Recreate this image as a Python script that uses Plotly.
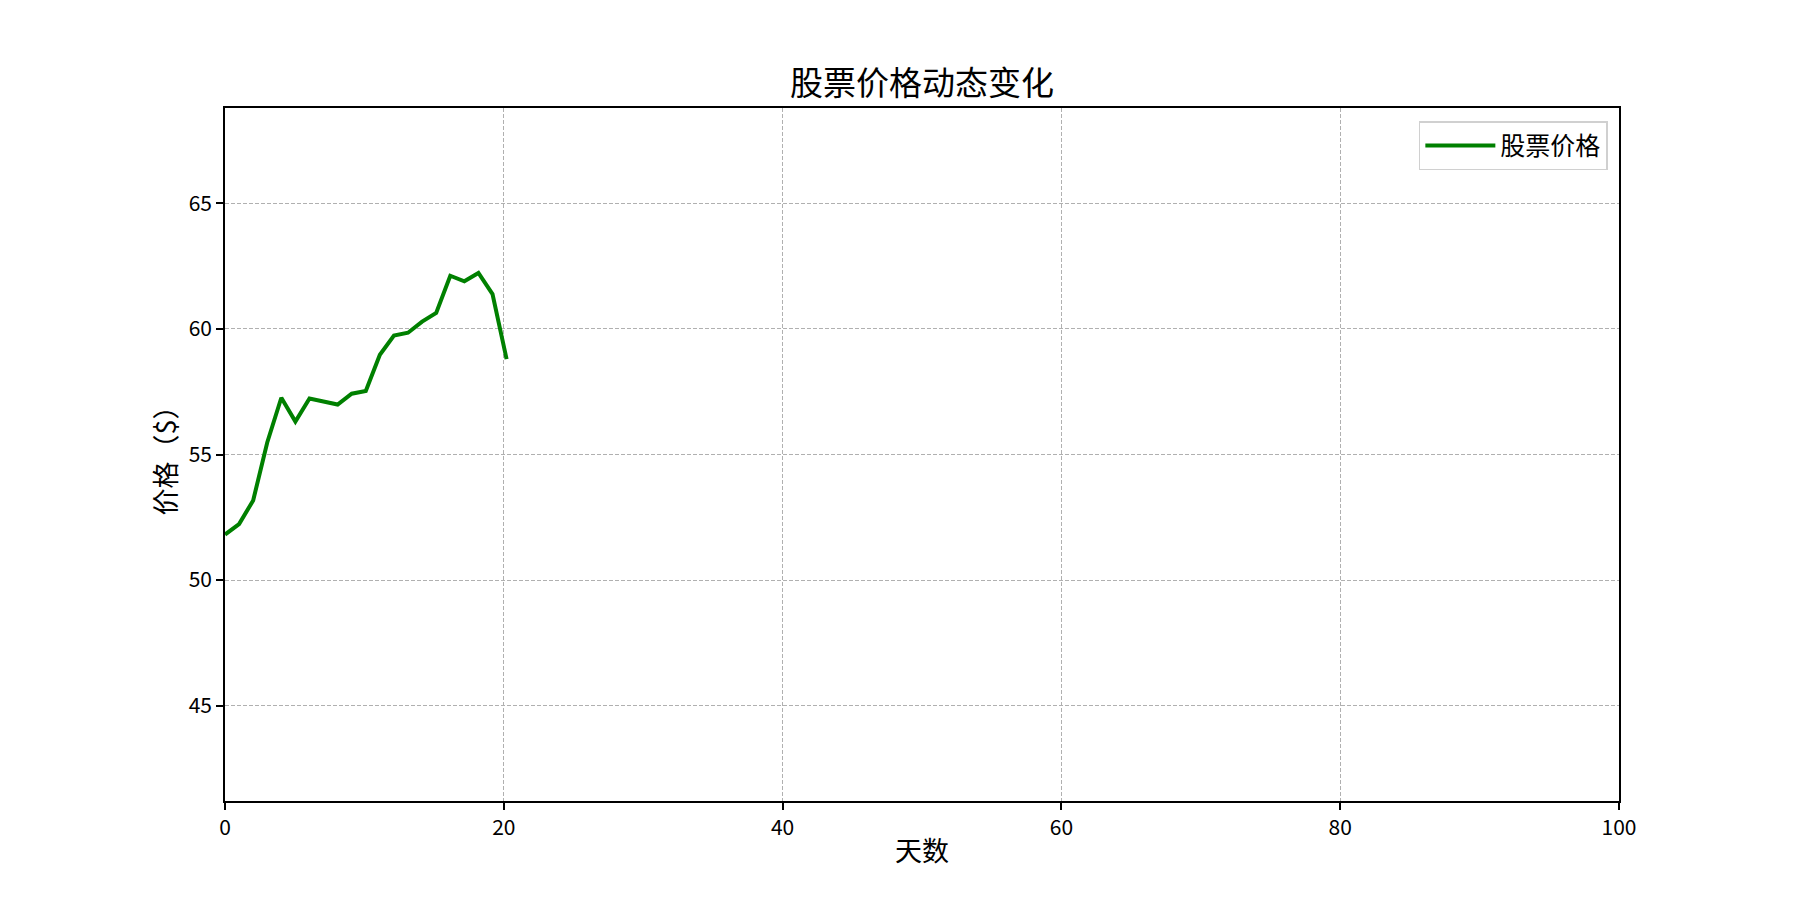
import plotly.graph_objects as go

FONT = "Noto Sans CJK SC"

# day index (0..20, spacing 100/99 as in the original run)
days = [0, 1.01, 2.02, 3.03, 4.04, 5.05, 6.06, 7.07, 8.08, 9.09, 10.1,
        11.11, 12.12, 13.13, 14.14, 15.15, 16.16, 17.17, 18.18, 19.19, 20.2]
prices = [51.81, 52.23, 53.17, 55.48, 57.26, 56.31, 57.23, 57.12, 56.99, 57.42, 57.53,
          58.97, 59.74, 59.85, 60.29, 60.64, 62.12, 61.90, 62.23, 61.39, 58.80]

x_ticks = [0, 20, 40, 60, 80, 100]
y_ticks = [45, 50, 55, 60, 65]

fig = go.Figure()

fig.add_trace(
    go.Scatter(
        x=days,
        y=prices,
        mode='lines',
        name='股票价格',
        line=dict(color='green', width=4),
    )
)

axis_common = dict(
    showline=True,
    linecolor='black',
    linewidth=1.7,
    mirror=True,
    ticks='outside',
    ticklen=7,
    tickwidth=1.7,
    tickcolor='black',
    tickfont=dict(family=FONT, size=21, color='black'),
    showgrid=True,
    gridcolor='#b0b0b0',
    gridwidth=1,
    griddash='4px,2px',
    zeroline=False,
)

fig.update_xaxes(range=[0, 100], tickvals=x_ticks, **axis_common)
fig.update_yaxes(range=[41.2, 68.8], tickvals=y_ticks, **axis_common)

# page body has an 8px margin, so offsets are shifted by 8
fig.update_layout(
    width=1800,
    height=900,
    margin=dict(l=217, r=189, t=100, b=107),
    paper_bgcolor='white',
    plot_bgcolor='white',
    title=dict(
        text='股票价格动态变化',
        font=dict(family=FONT, size=33, color='black'),
        x=0.5,
        xref='paper',
        xanchor='center',
        y=1 - 75 / 900,
        yanchor='middle',
    ),
    showlegend=True,
    legend=dict(
        x=0.992,
        y=0.981,
        xanchor='right',
        yanchor='top',
        bgcolor='white',
        bordercolor='#d0d0d0',
        borderwidth=1.5,
        itemwidth=70,
        font=dict(family=FONT, size=25, color='black'),
    ),
    annotations=[
        dict(
            text='价格（$）',
            xref='paper', yref='paper',
            x=0, y=0.5,
            xanchor='center', yanchor='middle',
            xshift=-61,
            textangle=-90,
            showarrow=False,
            font=dict(family=FONT, size=27, color='black'),
        ),
        dict(
            text='天数',
            xref='paper', yref='paper',
            x=0.5, y=0,
            xanchor='center', yanchor='middle',
            yshift=-48,
            showarrow=False,
            font=dict(family=FONT, size=27, color='black'),
        ),
    ],
)

fig.write_html("out.html")
